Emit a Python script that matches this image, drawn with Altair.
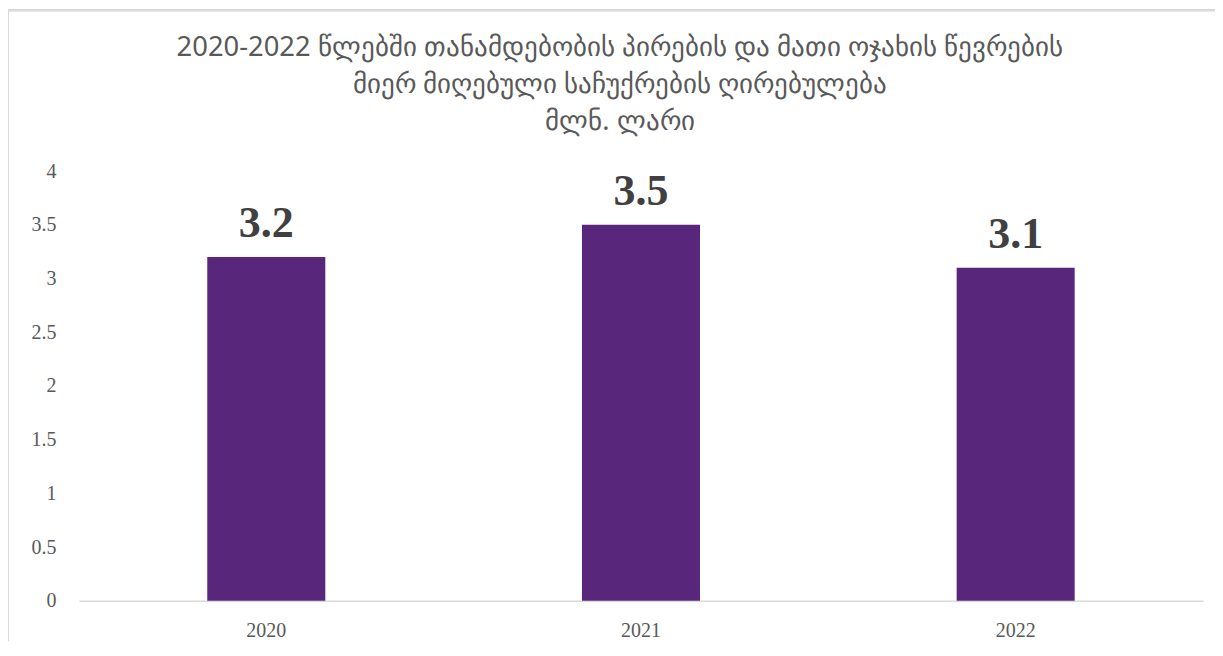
import altair as alt
import pandas as pd

years = ["2020", "2021", "2022"]
values = [3.2, 3.5, 3.1]
labels = ["3.2", "3.5", "3.1"]
title_lines = [
    "2020-2022 წლებში თანამდებობის პირების და მათი ოჯახის წევრების",
    "მიერ მიღებული საჩუქრების ღირებულება",
    "მლნ. ლარი",
]

df = pd.DataFrame({"year": years, "value": values, "label": labels})

W, H = 1125, 430

base = alt.Chart(df).encode(
    x=alt.X(
        "year:N",
        sort=years,
        scale=alt.Scale(paddingInner=0.685, paddingOuter=0.3425),
        axis=alt.Axis(
            title=None, labelAngle=0, ticks=False, domainColor="#d9d9d9",
            domainWidth=1.5, labelFont="Liberation Serif", labelFontSize=20,
            labelColor="#595959", labelPadding=20,
        ),
    ),
    y=alt.Y(
        "value:Q",
        scale=alt.Scale(domain=[0, 4], nice=False),
        axis=alt.Axis(
            title=None, values=[0, 0.5, 1, 1.5, 2, 2.5, 3, 3.5, 4], format="~g",
            grid=False, domain=False, ticks=False, labelFont="Liberation Serif",
            labelFontSize=20, labelColor="#595959", labelPadding=23,
        ),
    ),
)

bars = base.mark_bar(color="#58267B")
text = base.mark_text(
    dy=-20, baseline="alphabetic", font="Liberation Serif", fontWeight="bold",
    fontSize=44, color="#404040",
).encode(text="label:N")

frame = alt.Chart(df).mark_rect(
    fill=None, stroke="#d9d9d9", strokeWidth=2
).encode(
    x=alt.value(-71), x2=alt.value(W + 200),
    y=alt.value(-161), y2=alt.value(H + 200),
)

chart = (
    alt.layer(frame, bars, text)
    .properties(
        width=W,
        height=H,
        title=alt.TitleParams(
            text=title_lines, anchor="middle", font="Noto Sans", fontSize=27.4,
            fontWeight="normal", color="#595959", lineHeight=37, offset=-126, dx=-21,
        ),
        autosize=alt.AutoSizeParams(type="none"),
        padding={"left": 71, "top": 163, "right": 12, "bottom": 40},
        background="white",
    )
    .configure_view(stroke="transparent", strokeWidth=0)
)

chart.save("out.html", embed_options={"renderer": "svg", "actions": False})
